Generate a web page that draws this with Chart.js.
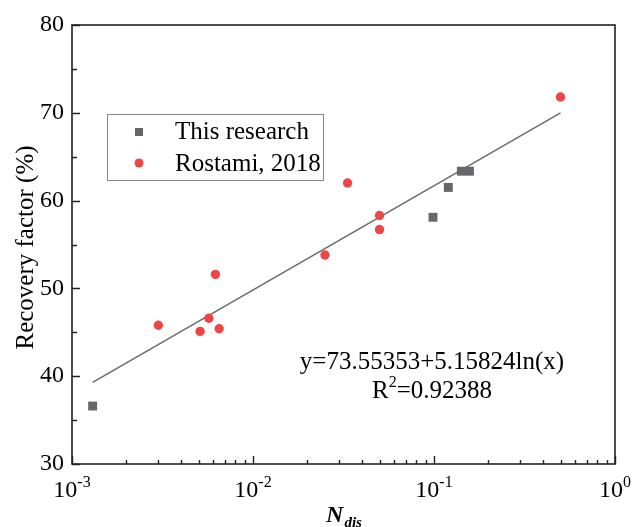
<!DOCTYPE html>
<html>
<head>
    <meta charset="UTF-8">
    <script src="https://cdn.jsdelivr.net/npm/chart.js@4"></script>
    <style>
        body {
            margin: 0;
            background: #fff;
        }
        canvas {
            display: block;
        }
    </style>
</head>
<body>

<canvas id="recoveryChart" width="633" height="527"></canvas>

<script>
// data
const researchX = [0.0013, 0.0987, 0.12, 0.1416, 0.157];
const researchY = [36.6, 58.1, 61.5, 63.35, 63.35];

const rostamiX = [0.003, 0.0051, 0.0057, 0.0062, 0.0065, 0.025, 0.0333, 0.05, 0.05, 0.5];
const rostamiY = [45.8, 45.1, 46.6, 51.6, 45.4, 53.8, 62.0, 58.3, 56.7, 71.8];

// fitted line y = 73.55353 + 5.15824 ln(x), end points as drawn
const fitX = [0.0013, 0.5];
const fitY = [39.3, 70.0];

const yTicks = [30, 40, 50, 60, 70, 80];
const yMinorTicks = [35, 45, 55, 65, 75];
const xDecades = [-3, -2, -1, 0];

const seriesNames = ['This research', 'Rostami, 2018'];
const fitLabel = ['y=73.55353+5.15824ln(x)', 'R', '2', '=0.92388'];

const SERIF = '"Liberation Serif", "Times New Roman", serif';
const GRAY = '#67676b';
const RED = '#ee4646';

function toPoints(xs, ys) {
    return xs.map(function (x, i) { return { x: x, y: ys[i] }; });
}

// draws frame, ticks, labels, legend and annotation
const decorPlugin = {
    id: 'decor',
    afterDraw: function (chart) {
        const ctx = chart.ctx;
        const area = chart.chartArea;
        const xs = chart.scales.x;
        const ys = chart.scales.y;

        ctx.save();
        ctx.strokeStyle = '#222';
        ctx.lineWidth = 1.6;
        ctx.strokeRect(area.left, area.top, area.right - area.left, area.bottom - area.top);

        // y ticks (inward)
        ctx.lineWidth = 1.4;
        ctx.beginPath();
        yTicks.forEach(function (v) {
            const py = Math.round(ys.getPixelForValue(v)) + 0.5;
            ctx.moveTo(area.left, py);
            ctx.lineTo(area.left + 8, py);
        });
        yMinorTicks.forEach(function (v) {
            const py = Math.round(ys.getPixelForValue(v)) + 0.5;
            ctx.moveTo(area.left, py);
            ctx.lineTo(area.left + 5, py);
        });
        // x ticks (inward)
        xDecades.forEach(function (e) {
            const px = Math.round(xs.getPixelForValue(Math.pow(10, e))) + 0.5;
            ctx.moveTo(px, area.bottom);
            ctx.lineTo(px, area.bottom - 8);
            if (e < 0) {
                for (let m = 2; m <= 9; m++) {
                    const mx = Math.round(xs.getPixelForValue(m * Math.pow(10, e))) + 0.5;
                    ctx.moveTo(mx, area.bottom);
                    ctx.lineTo(mx, area.bottom - 4);
                }
            }
        });
        ctx.stroke();

        ctx.fillStyle = '#000';
        // y labels
        ctx.font = '24px ' + SERIF;
        ctx.textAlign = 'right';
        ctx.textBaseline = 'middle';
        yTicks.forEach(function (v) {
            ctx.fillText(String(v), area.left - 8, ys.getPixelForValue(v));
        });

        // x labels 10^n
        ctx.textAlign = 'left';
        ctx.textBaseline = 'alphabetic';
        xDecades.forEach(function (e) {
            const px = xs.getPixelForValue(Math.pow(10, e));
            ctx.font = '24px ' + SERIF;
            const w1 = ctx.measureText('10').width;
            ctx.font = '16px ' + SERIF;
            const sup = e === 0 ? '0' : '-' + Math.abs(e);
            const w2 = ctx.measureText(sup).width;
            const x0 = px - (w1 + w2) / 2;
            ctx.font = '24px ' + SERIF;
            ctx.fillText('10', x0, 497);
            ctx.font = '16px ' + SERIF;
            ctx.fillText(sup, x0 + w1, 487);
        });

        // x title N_dis
        ctx.font = 'italic bold 24px ' + SERIF;
        const nW = ctx.measureText('N').width;
        ctx.font = 'italic bold 15px ' + SERIF;
        const dW = ctx.measureText('dis').width;
        const tx = (area.left + area.right) / 2 - (nW + dW) / 2;
        ctx.font = 'italic bold 24px ' + SERIF;
        ctx.fillText('N', tx, 522);
        ctx.font = 'italic bold 15px ' + SERIF;
        ctx.fillText('dis', tx + nW + 1, 527);

        // y title
        ctx.save();
        ctx.translate(26, (area.top + area.bottom) / 2 + 3);
        ctx.rotate(-Math.PI / 2);
        ctx.font = '25px ' + SERIF;
        ctx.textAlign = 'center';
        ctx.textBaseline = 'middle';
        ctx.fillText('Recovery factor (%)', 0, 0);
        ctx.restore();

        // legend
        ctx.strokeStyle = '#888';
        ctx.lineWidth = 1;
        ctx.strokeRect(107.5, 114.5, 216, 66);
        ctx.fillStyle = GRAY;
        ctx.fillRect(135, 128, 8, 8);
        ctx.fillStyle = RED;
        ctx.beginPath();
        ctx.arc(139, 163, 4.5, 0, Math.PI * 2);
        ctx.fill();
        ctx.fillStyle = '#000';
        ctx.font = '25px ' + SERIF;
        ctx.textAlign = 'left';
        ctx.textBaseline = 'middle';
        ctx.fillText(seriesNames[0], 175, 132);
        ctx.fillText(seriesNames[1], 175, 164);

        // fit annotation
        ctx.textAlign = 'center';
        ctx.fillText(fitLabel[0], 432, 362);
        ctx.textAlign = 'left';
        const rW = ctx.measureText(fitLabel[1]).width;
        const restW = ctx.measureText(fitLabel[3]).width;
        ctx.font = '16px ' + SERIF;
        const sW = ctx.measureText(fitLabel[2]).width;
        const sx = 432 - (rW + sW + restW) / 2;
        ctx.font = '25px ' + SERIF;
        ctx.fillText(fitLabel[1], sx, 391);
        ctx.fillText(fitLabel[3], sx + rW + sW, 391);
        ctx.font = '16px ' + SERIF;
        ctx.fillText(fitLabel[2], sx + rW, 383);
        ctx.restore();
    }
};

const chart = new Chart(document.getElementById('recoveryChart'), {
    type: 'scatter',
    data: {
        datasets: [
            {
                label: seriesNames[0],
                data: toPoints(researchX, researchY),
                pointStyle: 'rect',
                pointRadius: 6.3,
                backgroundColor: GRAY,
                borderColor: GRAY,
                borderWidth: 0,
                order: 1
            },
            {
                label: seriesNames[1],
                data: toPoints(rostamiX, rostamiY),
                pointStyle: 'circle',
                pointRadius: 4.7,
                backgroundColor: RED,
                borderColor: RED,
                borderWidth: 0,
                order: 1
            },
            {
                label: 'fit',
                data: toPoints(fitX, fitY),
                showLine: true,
                pointRadius: 0,
                borderColor: '#6a6a6a',
                borderWidth: 1.5,
                order: 3
            }
        ]
    },
    options: {
        responsive: false,
        animation: false,
        layout: {
            padding: { left: 72, right: 18, top: 25, bottom: 63 }
        },
        plugins: {
            legend: { display: false },
            tooltip: { enabled: false }
        },
        scales: {
            x: {
                type: 'logarithmic',
                min: 0.001,
                max: 1,
                display: false
            },
            y: {
                type: 'linear',
                min: 30,
                max: 80,
                display: false
            }
        }
    },
    plugins: [decorPlugin]
});
</script>

</body>
</html>
